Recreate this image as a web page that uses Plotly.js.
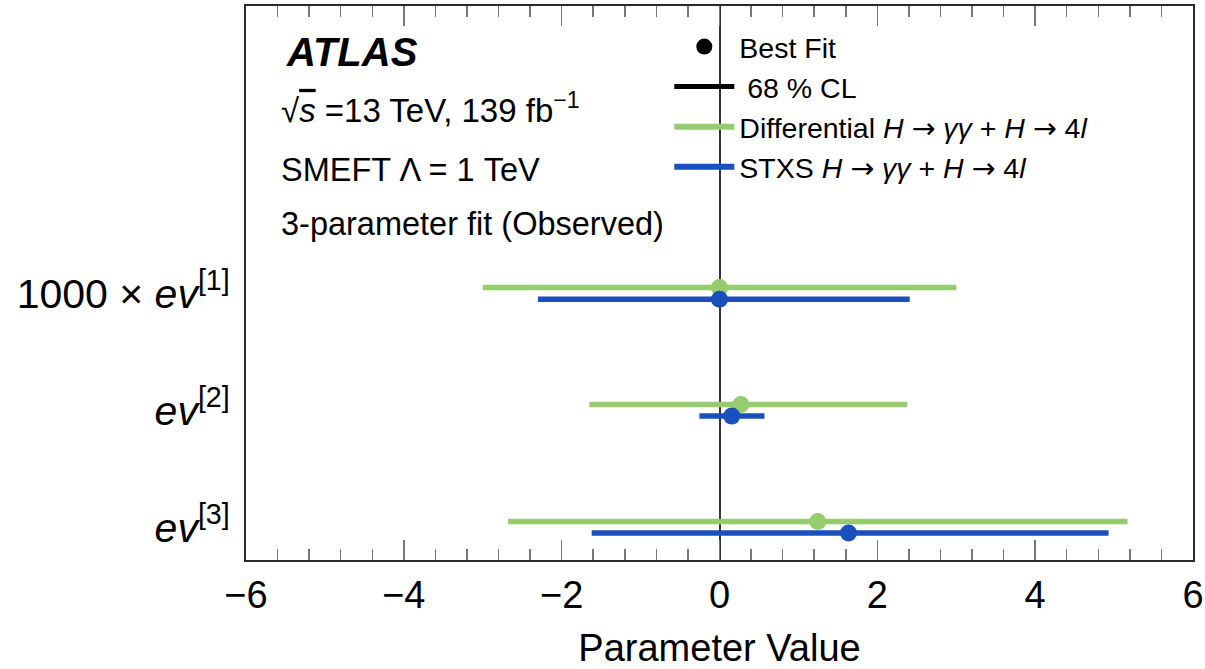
<!DOCTYPE html>
<html>
<head>
<meta charset="utf-8">
<script src="https://cdn.plot.ly/plotly-3.0.1.min.js"></script>
<style>html,body{margin:0;padding:0;background:#fff;}#chart{width:1205px;height:669px;}</style>
</head>
<body>
<div id="chart"></div>
<script>
// ---- Data ----
const paramLabels = [
  '1000 × <i>ev</i><sup>[1]</sup>',
  '<i>ev</i><sup>[2]</sup>',
  '<i>ev</i><sup>[3]</sup>'
];
const diffBest = [0.0, 0.27, 1.245];
const diffLow  = [-3.0, -1.65, -2.68];
const diffHigh = [3.0, 2.38, 5.17];
const stxsBest = [0.0, 0.155, 1.635];
const stxsLow  = [-2.30, -0.255, -1.62];
const stxsHigh = [2.41, 0.57, 4.93];
const xTickVals = [-6, -4, -2, 0, 2, 4, 6];

// ---- Styling ----
const FONT = 'Liberation Sans, Arial, Helvetica, sans-serif';
const GREEN = '#96cb6e';
const BLUE = '#1a50bd';
const AXIS = '#2b2b2b';
const n = paramLabels.length;
const rowPos = paramLabels.map((_, i) => n - i);
const off = 0.05;
const ARROW = '<span style="font-family:DejaVu Sans">→</span>';

function errTrace(name, best, lo, hi, color, dy) {
  return {
    type: 'scatter', mode: 'markers', name: name, showlegend: false,
    x: best, y: rowPos.map(v => v + dy),
    marker: {color: color, size: 17},
    error_x: {
      type: 'data', symmetric: false,
      array: hi.map((h, i) => h - best[i]),
      arrayminus: lo.map((l, i) => best[i] - l),
      color: color, thickness: 5.5, width: 0
    },
    hoverinfo: 'x'
  };
}

const traces = [
  errTrace('Differential', diffBest, diffLow, diffHigh, GREEN, off),
  errTrace('STXS', stxsBest, stxsLow, stxsHigh, BLUE, -off),
  // legend-only entries
  {type: 'scatter', mode: 'markers', name: 'Best Fit', x: [null], y: [null],
   marker: {color: 'black', size: 17}, showlegend: true},
  {type: 'scatter', mode: 'lines', name: ' 68 % CL', x: [null], y: [null],
   line: {color: 'black', width: 5}, showlegend: true},
  {type: 'scatter', mode: 'lines', name: 'Differential <i>H</i> ' + ARROW + ' <i>γγ</i> + <i>H</i> ' + ARROW + ' 4<i>l</i>', x: [null], y: [null],
   line: {color: GREEN, width: 6}, showlegend: true},
  {type: 'scatter', mode: 'lines', name: 'STXS <i>H</i> ' + ARROW + ' <i>γγ</i> + <i>H</i> ' + ARROW + ' 4<i>l</i>', x: [null], y: [null],
   line: {color: BLUE, width: 6}, showlegend: true}
];

const layout = {
  width: 1205, height: 669,
  margin: {l: 246, r: 12, t: 6, b: 109},
  paper_bgcolor: '#fff', plot_bgcolor: '#fff',
  font: {family: FONT, color: '#000', size: 31},
  showlegend: true,
  legend: {
    x: 0.447, y: 0.972, xanchor: 'left', yanchor: 'top',
    bgcolor: 'rgba(0,0,0,0)', borderwidth: 0,
    font: {family: FONT, size: 28.5, color: '#000'},
    itemwidth: 60, tracegroupgap: 0
  },
  xaxis: {
    range: [-6, 6], tickvals: xTickVals, ticks: 'inside', ticklen: 20, tickwidth: 1.5,
    tickcolor: '#777', mirror: 'allticks', showline: true, linecolor: AXIS, linewidth: 2,
    showgrid: false, zeroline: true, zerolinecolor: '#333', zerolinewidth: 2,
    tickfont: {family: FONT, size: 38, color: '#000'},
    ticklabelstandoff: 0,
    minor: {dtick: 0.4, ticks: 'inside', ticklen: 11, tickwidth: 1.5, tickcolor: '#777', showgrid: false},
    title: {text: 'Parameter Value', font: {family: FONT, size: 38, color: '#000'}, standoff: 30}
  },
  yaxis: {
    range: [0.72, 5.456], tickvals: rowPos, ticktext: paramLabels, ticks: '',
    showline: true, linecolor: AXIS, linewidth: 2, mirror: true,
    showgrid: false, zeroline: false,
    tickfont: {family: FONT, size: 41, color: '#000'},
    ticklabelstandoff: 6
  },
  annotations: [
    {xref: 'paper', yref: 'paper', x: 0.040, y: 0.917, xanchor: 'left', yanchor: 'middle', showarrow: false,
     text: '<b><i>ATLAS</i></b>', font: {family: FONT, size: 40, color: '#000'}},
    {xref: 'paper', yref: 'paper', x: 0.035, y: 0.815, xanchor: 'left', yanchor: 'middle', showarrow: false,
     text: '√<span style="text-decoration:overline"><i>s</i></span> =13 TeV, 139 fb<sup>−1</sup>', font: {family: FONT, size: 33, color: '#000'}},
    {xref: 'paper', yref: 'paper', x: 0.035, y: 0.704, xanchor: 'left', yanchor: 'middle', showarrow: false,
     text: 'SMEFT Λ = 1 TeV', font: {family: FONT, size: 32.5, color: '#000'}},
    {xref: 'paper', yref: 'paper', x: 0.035, y: 0.606, xanchor: 'left', yanchor: 'middle', showarrow: false,
     text: '3-parameter fit (Observed)', font: {family: FONT, size: 32.5, color: '#000'}}
  ]
};

Plotly.newPlot('chart', traces, layout, {displayModeBar: false, staticPlot: true});
</script>
</body>
</html>
